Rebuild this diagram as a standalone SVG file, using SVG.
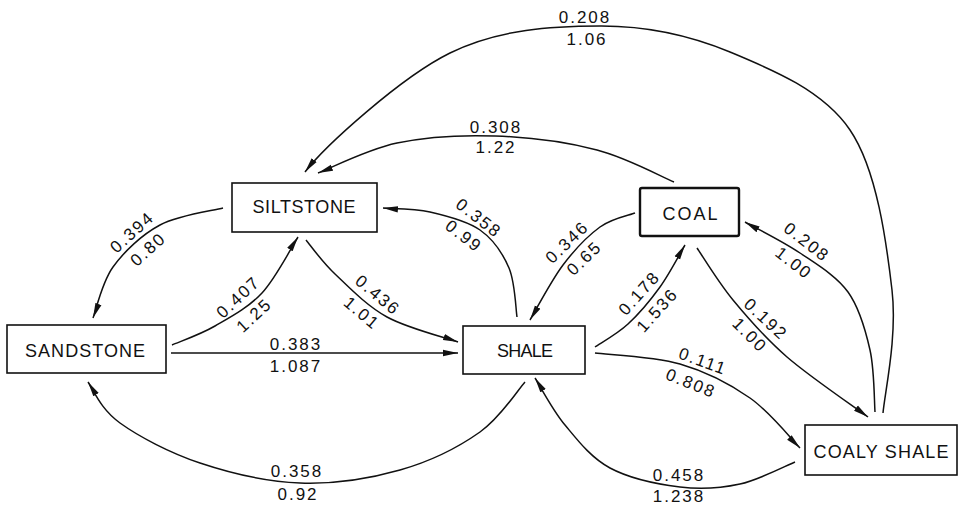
<svg xmlns="http://www.w3.org/2000/svg" width="962" height="506" viewBox="0 0 962 506">
  <defs>
    <style>
      .edge { fill: none; stroke: #111; stroke-width: 1.5; marker-end: url(#ah); }
      .box { fill: #fff; stroke: #111; stroke-width: 1.6; }
      .box.heavy { stroke-width: 2.4; }
      .nl { font-family: "Liberation Sans", Arial, sans-serif; font-size: 18px; fill: #111; text-anchor: middle; }
      .lbl { font-family: "Liberation Sans", Arial, sans-serif; font-size: 17px; letter-spacing: 2px; fill: #111; text-anchor: middle; }
    </style>
    <marker id="ah" markerUnits="userSpaceOnUse" markerWidth="16" markerHeight="8" viewBox="0 0 16 8" refX="15" refY="4" orient="auto">
      <path d="M0,0.8 L15,4 L0,7.2 Z" fill="#111"/>
    </marker>
  </defs>
  <rect width="962" height="506" fill="#fff"/>

  <!-- transition arcs -->
  <g id="connectors">
    <path class="edge" d="M883,413 C884.7,392.5 897.5,337.2 892,290 C886.5,242.8 877,169.7 850,130 C823,90.3 771.7,69.3 730,52 C688.3,34.7 646.7,25.8 600,26 C553.3,26.2 499.2,28.7 450,53 C400.8,77.3 325,146 305,172"/>
    <path class="edge" d="M674,182 C661.2,176.7 626.8,157.7 597,150 C567.2,142.3 528.3,137.2 495,136 C461.7,134.8 426.5,136.8 397,143 C367.5,149.2 331.2,168 318,173"/>
    <path class="edge" d="M223,208 C212.5,210.8 178.3,215.2 160,225 C141.7,234.8 124.2,251.5 113,267 C101.8,282.5 96.3,309.5 93,318"/>
    <path class="edge" d="M172,345 C179.2,341.8 200,334.7 215,326 C230,317.3 248.2,307.8 262,293 C275.8,278.2 292,246.3 298,237"/>
    <path class="edge" d="M306,240 C310.8,245.7 321.5,261.2 335,274 C348.5,286.8 366.5,305.7 387,317 C407.5,328.3 446.2,337.8 458,342"/>
    <path class="edge" d="M171,353 L458,353"/>
    <path class="edge" d="M517,317 C515.7,308.8 515.2,282.5 509,268 C502.8,253.5 493.2,239.3 480,230 C466.8,220.7 446.2,215.7 430,212 C413.8,208.3 390.8,208.7 383,208"/>
    <path class="edge" d="M635,213 C629.2,215.3 612,218.3 600,227 C588,235.7 574.7,249.5 563,265 C551.3,280.5 535.5,310.8 530,320"/>
    <path class="edge" d="M595,347 C600.5,343.2 617.2,334 628,324 C638.8,314 650.5,300.2 660,287 C669.5,273.8 680.8,252 685,245"/>
    <path class="edge" d="M697,248 C703,256.7 718,281.8 733,300 C748,318.2 764.5,337.5 787,357 C809.5,376.5 854.5,407 868,417"/>
    <path class="edge" d="M875,412 C874.2,401.7 874.5,370 870,350 C865.5,330 859.7,308.2 848,292 C836.3,275.8 817.2,264.7 800,253 C782.8,241.3 754.2,227.2 745,222"/>
    <path class="edge" d="M595,353 C609.2,354.8 654.2,356.5 680,364 C705.8,371.5 730,384 750,398 C770,412 791.7,439.7 800,448"/>
    <path class="edge" d="M795,462 C785.8,465.7 759.2,479.8 740,484 C720.8,488.2 701.7,489.7 680,487 C658.3,484.3 629.2,478.3 610,468 C590.8,457.7 577.5,440 565,425 C552.5,410 540,385.8 535,378"/>
    <path class="edge" d="M525,382 C517.5,390.3 500.8,417.3 480,432 C459.2,446.7 430,461.5 400,470 C370,478.5 333.3,484.2 300,483 C266.7,481.8 230,473 200,463 C170,453 138.7,436.5 120,423 C101.3,409.5 95,393 88,382"/>
  </g>

  <!-- arc labels: probability over value -->
  <g id="labels">
    <text class="lbl" x="585" y="23">0.208</text>
    <text class="lbl" x="587" y="45">1.06</text>
    <text class="lbl" x="496" y="133">0.308</text>
    <text class="lbl" x="496" y="153">1.22</text>
    <text class="lbl" x="296" y="350">0.383</text>
    <text class="lbl" x="296" y="372">1.087</text>
    <text class="lbl" x="297" y="477">0.358</text>
    <text class="lbl" x="298" y="500">0.92</text>
    <text class="lbl" x="679" y="481">0.458</text>
    <text class="lbl" x="679" y="502">1.238</text>

    <text class="lbl" transform="translate(132 232) rotate(-42)" y="6">0.394</text>
    <text class="lbl" transform="translate(148 249) rotate(-42)" y="6">0.80</text>
    <text class="lbl" transform="translate(238 297) rotate(-43)" y="6">0.407</text>
    <text class="lbl" transform="translate(254 315) rotate(-43)" y="6">1.25</text>
    <text class="lbl" transform="translate(378 295) rotate(40)" y="6">0.436</text>
    <text class="lbl" transform="translate(362 313) rotate(40)" y="6">1.01</text>
    <text class="lbl" transform="translate(479 218) rotate(38)" y="6">0.358</text>
    <text class="lbl" transform="translate(464 236) rotate(38)" y="6">0.99</text>
    <text class="lbl" transform="translate(567 242) rotate(-44)" y="6">0.346</text>
    <text class="lbl" transform="translate(584 258) rotate(-44)" y="6">0.65</text>
    <text class="lbl" transform="translate(639 293) rotate(-48)" y="6">0.178</text>
    <text class="lbl" transform="translate(657 310) rotate(-48)" y="6">1.536</text>
    <text class="lbl" transform="translate(807 242) rotate(38)" y="6">0.208</text>
    <text class="lbl" transform="translate(794 263) rotate(38)" y="6">1.00</text>
    <text class="lbl" transform="translate(766 319) rotate(43)" y="6">0.192</text>
    <text class="lbl" transform="translate(750 335) rotate(45)" y="6">1.00</text>
    <text class="lbl" transform="translate(703 361) rotate(20)" y="6">0.111</text>
    <text class="lbl" transform="translate(691 383) rotate(22)" y="6">0.808</text>
  </g>

  <!-- lithology states -->
  <g id="siltstone">
    <rect class="box" x="232" y="183" width="145" height="49"/>
    <text class="nl" x="304" y="213" textLength="103" lengthAdjust="spacing">SILTSTONE</text>
  </g>
  <g id="coal">
    <rect class="box heavy" x="640" y="188" width="99" height="48" rx="2"/>
    <text class="nl" x="690" y="220" textLength="55" lengthAdjust="spacing">COAL</text>
  </g>
  <g id="sandstone">
    <rect class="box" x="7" y="325" width="159" height="48"/>
    <text class="nl" x="85" y="357" textLength="120" lengthAdjust="spacing">SANDSTONE</text>
  </g>
  <g id="shale">
    <rect class="box" x="463" y="326" width="122" height="48"/>
    <text class="nl" x="525" y="357" textLength="56" lengthAdjust="spacing">SHALE</text>
  </g>
  <g id="coaly-shale">
    <rect class="box" x="805" y="425" width="152" height="50"/>
    <text class="nl" x="881" y="458" textLength="135" lengthAdjust="spacing">COALY SHALE</text>
  </g>
</svg>
